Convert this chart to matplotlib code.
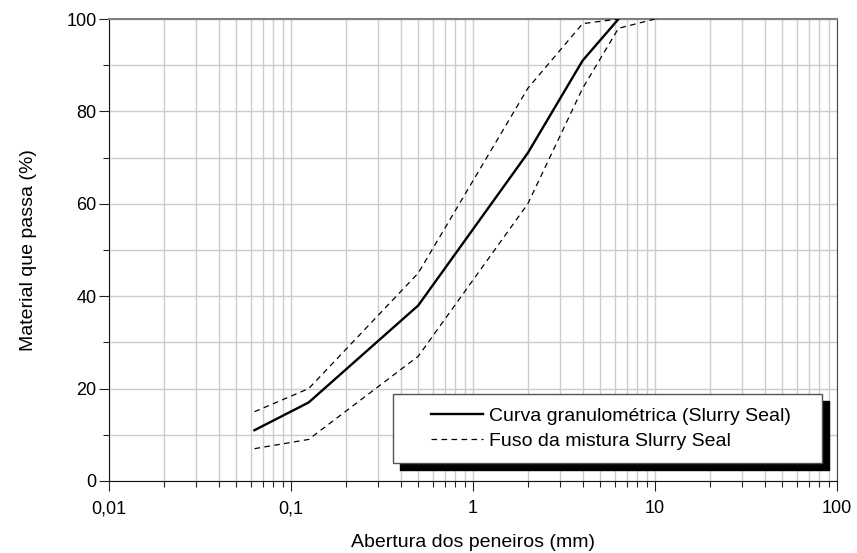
import matplotlib
matplotlib.use('Agg')
import matplotlib.pyplot as plt
from matplotlib.patches import Rectangle
from matplotlib.ticker import FixedLocator, FixedFormatter, MultipleLocator, LogLocator, NullFormatter

plt.rcParams['font.family'] = ['Liberation Sans', 'DejaVu Sans']

# sieve openings (mm) and passing percentages
sieve = [0.063, 0.125, 0.5, 2, 4, 6.3]
passing = [11, 17, 38, 71, 91, 100]

upper_sieve = [0.063, 0.125, 0.5, 2, 4, 6.3]
upper_lim = [15, 20, 45, 85, 99, 100]

lower_sieve = [0.063, 0.125, 0.5, 2, 4, 6.3, 10]
lower_lim = [7, 9, 27, 60, 85, 98, 100]

xticks = [0.01, 0.1, 1, 10, 100]
xticklabels = ['0,01', '0,1', '1', '10', '100']

fig = plt.figure(figsize=(8.57, 5.53), dpi=100)
ax = fig.add_axes([0.1272, 0.1302, 0.8495, 0.8354])

ax.plot(sieve, passing, color='black', linewidth=1.7, zorder=3,
        label='Curva granulométrica (Slurry Seal)')
ax.plot(upper_sieve, upper_lim, color='black', linewidth=0.9, dashes=(4.5, 3.5), zorder=3,
        label='Fuso da mistura Slurry Seal')
ax.plot(lower_sieve, lower_lim, color='black', linewidth=0.9, dashes=(4.5, 3.5), zorder=3)

ax.set_xscale('log')
ax.set_xlim(0.01, 100)
ax.set_ylim(0, 100)

ax.xaxis.set_major_locator(FixedLocator(xticks))
ax.xaxis.set_major_formatter(FixedFormatter(xticklabels))
ax.xaxis.set_minor_locator(LogLocator(base=10, subs=range(2, 10)))
ax.xaxis.set_minor_formatter(NullFormatter())
ax.yaxis.set_major_locator(MultipleLocator(20))
ax.yaxis.set_minor_locator(MultipleLocator(10))

ax.grid(True, which='both', color='#cccccc', linewidth=1.0, zorder=0)
ax.set_axisbelow(True)

ax.tick_params(which='major', direction='out', length=7, width=0.8, labelsize=13, color='#222222')
ax.tick_params(which='minor', direction='out', length=4, width=0.8, color='#222222')
ax.tick_params(axis='x', which='major', pad=7)
ax.tick_params(axis='y', which='major', pad=2)

ax.spines['left'].set_color('#111111')
ax.spines['bottom'].set_color('#111111')
ax.spines['top'].set_color('#808080')
ax.spines['top'].set_linewidth(1.5)
ax.spines['right'].set_color('#444444')

ax.set_xlabel('Abertura dos peneiros (mm)', fontsize=14, labelpad=12)
ax.set_ylabel('Material que passa (%)', fontsize=14, labelpad=21)

# legend frame with a solid black drop shadow
box_x, box_y, box_w, box_h = 0.390, 0.039, 0.589, 0.149
ax.add_patch(Rectangle((box_x + 0.0096, box_y - 0.0152), box_w, box_h, transform=ax.transAxes,
                       facecolor='black', edgecolor='black', zorder=4))
ax.add_patch(Rectangle((box_x, box_y), box_w, box_h, transform=ax.transAxes,
                       facecolor='white', edgecolor='#555555', linewidth=1.0, zorder=4.5))
leg = ax.legend(loc='center left', bbox_to_anchor=(box_x + 0.0527, box_y + box_h / 2),
                frameon=False, fontsize=14, handlelength=2.65, handletextpad=0.3,
                labelspacing=0.4, borderpad=0, borderaxespad=0)
leg.set_zorder(5)

fig.savefig('out.png', dpi=100)
